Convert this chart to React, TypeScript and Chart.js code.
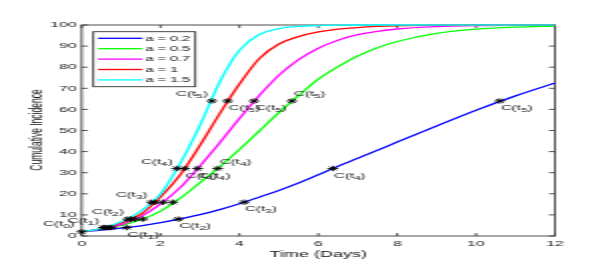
import React, { useEffect, useRef } from 'react';
import { Chart, registerables } from 'chart.js';

Chart.register(...registerables);

// ---- data ----
const T_A02 = [0, 0.5, 1, 1.5, 2, 2.5, 3, 3.5, 4, 4.5, 5, 5.5, 6, 6.5, 7, 7.5, 8, 9, 10, 11, 12];
const C_A02 = [2, 2.8, 3.7, 4.8, 6.3, 8.1, 10.1, 12.5, 15.3, 18.4, 21.6, 25.1, 29.0, 33.1, 36.8, 40.6, 44.5, 52.1, 59.6, 66.4, 72.5];

const T_A05 = [0, 0.5, 1, 1.5, 2, 2.5, 3, 3.5, 4, 4.5, 5, 5.5, 6, 6.5, 7, 7.5, 8, 9, 10, 11, 12];
const C_A05 = [2, 3.2, 5.0, 7.7, 11.8, 17.9, 25.3, 32.8, 41, 49.7, 58.5, 66.5, 74.3, 80.3, 85.3, 89.2, 92.2, 96, 98, 99, 99.5];

const T_A07 = [0, 0.5, 1, 1.5, 2, 2.5, 3, 3.5, 4, 4.5, 5, 5.5, 6, 6.5, 7, 7.5, 8, 9, 10, 11, 12];
const C_A07 = [2, 3.4, 5.4, 9.2, 15.2, 23, 33.2, 44.2, 55.7, 66.5, 76.2, 83.6, 89, 92.8, 95.4, 97, 98.1, 99.2, 99.7, 99.9, 100];

const T_A1 = [0, 0.5, 1, 1.5, 2, 2.5, 3, 3.5, 4, 4.5, 5, 5.5, 6, 6.5, 7, 7.5, 8, 9, 10, 12];
const C_A1 = [2, 3.5, 6.2, 10.3, 18.5, 29, 43, 58, 72, 84, 91, 94.5, 96.7, 98, 98.8, 99.3, 99.6, 99.9, 100, 100];

const T_A15 = [0, 0.5, 1, 1.5, 2, 2.5, 3, 3.5, 4, 4.5, 5, 5.5, 6, 6.5, 7, 8, 12];
const C_A15 = [2, 3.6, 6.8, 11.8, 20, 34.5, 52.5, 73, 88, 95.5, 98.3, 99.3, 99.7, 99.9, 100, 100, 100];

const SERIES_LABELS = ['a = 0.2', 'a = 0.5', 'a = 0.7', 'a = 1', 'a = 1.5'];
const SERIES_COLORS = ['#0000ff', '#00ff00', '#ff00ff', '#ff0000', '#00ffff'];

// asterisk markers
const MARK_T = [0, 1.14, 2.45, 4.12, 6.37, 10.6,
  0.75, 1.55, 2.31, 3.45, 5.33,
  0.68, 1.35, 2.06, 2.94, 4.37,
  0.6, 1.25, 1.85, 2.61, 3.7,
  0.55, 1.17, 1.77, 2.41, 3.3];
const MARK_C = [2, 4, 8, 16, 32, 64,
  4, 8, 16, 32, 64,
  4, 8, 16, 32, 64,
  4, 8, 16, 32, 64,
  4, 8, 16, 32, 64];

// C(t_i) annotations: anchor, subscript, placement (AL above-left, BR below-right, AR above-right)
const NOTE_T = [0, 0.55, 1.14, 1.17, 2.45, 1.77, 4.12, 2.41, 2.61, 2.94, 3.45, 6.37, 3.3, 3.7, 4.37, 5.33, 10.6];
const NOTE_C = [2, 4, 4, 8, 8, 16, 16, 32, 32, 32, 32, 32, 64, 64, 64, 64, 64];
const NOTE_SUB = ['0', '1', '1', '2', '2', '3', '3', '4', '4', '4', '4', '4', '5', '5', '5', '5', '5'];
const NOTE_POS = ['AL', 'AL', 'BR', 'AL', 'BR', 'AL', 'BR', 'AL', 'BR', 'BR', 'AR', 'BR', 'AL', 'BR', 'BR', 'AR', 'BR'];

const X_TICKS = [0, 2, 4, 6, 8, 10, 12];
const Y_TICKS = [0, 10, 20, 30, 40, 50, 60, 70, 80, 90, 100];

const X_TITLE = 'Time (Days)';
const Y_TITLE = 'Cumulative Incidence';

const FONT = '"Liberation Sans", Arial, Helvetica, sans-serif';

const CURVES_T = [T_A02, T_A05, T_A07, T_A1, T_A15];
const CURVES_C = [C_A02, C_A05, C_A07, C_A1, C_A15];

const framePlugin = {
  id: 'frameTicks',
  beforeDatasetsDraw(chart: any) {
    const { ctx, chartArea: ca, scales } = chart;
    ctx.save();
    ctx.strokeStyle = '#3a3a3a';
    ctx.lineWidth = 0.9;
    ctx.strokeRect(ca.left, ca.top, ca.right - ca.left, ca.bottom - ca.top);
    ctx.beginPath();
    const tl = 3;
    X_TICKS.forEach((v) => {
      const x = scales.x.getPixelForValue(v);
      ctx.moveTo(x, ca.bottom); ctx.lineTo(x, ca.bottom - tl);
      ctx.moveTo(x, ca.top); ctx.lineTo(x, ca.top + tl);
    });
    Y_TICKS.forEach((v) => {
      const y = scales.y.getPixelForValue(v);
      ctx.moveTo(ca.left, y); ctx.lineTo(ca.left + tl, y);
      ctx.moveTo(ca.right, y); ctx.lineTo(ca.right - tl, y);
    });
    ctx.stroke();
    ctx.restore();
  },
};

const textPlugin = {
  id: 'notesLegendTitles',
  afterDatasetsDraw(chart: any) {
    const { ctx, chartArea: ca, scales } = chart;
    ctx.save();
    // annotations
    const mainFont = `7.5px ${FONT}`;
    const subFont = `6px ${FONT}`;
    ctx.fillStyle = '#111';
    ctx.textBaseline = 'middle';
    ctx.textAlign = 'left';
    NOTE_T.forEach((t, i) => {
      const px = scales.x.getPixelForValue(t);
      const py = scales.y.getPixelForValue(NOTE_C[i]);
      ctx.font = mainFont;
      const w1 = ctx.measureText('C(t').width;
      const w3 = ctx.measureText(')').width;
      ctx.font = subFont;
      const w2 = ctx.measureText(NOTE_SUB[i]).width;
      const total = w1 + w2 + w3;
      const pos = NOTE_POS[i];
      let x0 = px + 0.5;
      let yc = py + 7;
      if (pos === 'AL') { x0 = px - 2 - total; yc = py - 7; }
      if (pos === 'AR') { x0 = px + 1; yc = py - 7; }
      if (i === 0) { yc = py - 8; x0 = px - 3.5 - total; }
      ctx.font = mainFont;
      ctx.fillText('C(t', x0, yc);
      ctx.font = subFont;
      ctx.fillText(NOTE_SUB[i], x0 + w1, yc + 2.5);
      ctx.font = mainFont;
      ctx.fillText(')', x0 + w1 + w2, yc);
    });

    // legend
    const bx = ca.left + 5.8;
    const by = ca.top + 6.7;
    const bw = 51;
    const bh = 55;
    ctx.fillStyle = '#fff';
    ctx.fillRect(bx, by, bw, bh);
    ctx.strokeStyle = '#333';
    ctx.lineWidth = 0.9;
    ctx.strokeRect(bx, by, bw, bh);
    ctx.font = `7.3px ${FONT}`;
    ctx.textBaseline = 'middle';
    SERIES_LABELS.forEach((lab, i) => {
      const y = by + 6.6 + i * 10.4;
      ctx.strokeStyle = SERIES_COLORS[i];
      ctx.lineWidth = 1.3;
      ctx.beginPath();
      ctx.moveTo(bx + 2.4, y);
      ctx.lineTo(bx + 24.6, y);
      ctx.stroke();
      ctx.fillStyle = '#111';
      ctx.fillText(lab, bx + 26, y + 0.3);
    });

    // axis titles
    ctx.fillStyle = '#111';
    ctx.font = `9px ${FONT}`;
    ctx.textAlign = 'center';
    ctx.textBaseline = 'middle';
    ctx.fillText(X_TITLE, (ca.left + ca.right) / 2, 255);
    ctx.font = `8.5px ${FONT}`;
    ctx.translate(19, 130);
    ctx.rotate(-Math.PI / 2);
    ctx.fillText(Y_TITLE, 0, 0);
    ctx.restore();
  },
};

export default function App() {
  const ref = useRef<HTMLCanvasElement>(null);
  useEffect(() => {
    const curveSets = CURVES_T.map((ts, k) => ({
      type: 'line' as const,
      label: SERIES_LABELS[k],
      data: ts.map((t, i) => ({ x: t, y: CURVES_C[k][i] })),
      borderColor: SERIES_COLORS[k],
      backgroundColor: SERIES_COLORS[k],
      borderWidth: 1.3,
      pointRadius: 0,
      cubicInterpolationMode: 'monotone' as const,
      clip: false as any,
      order: 5 - k,
    }));
    const markerSet = {
      type: 'line' as const,
      label: 'markers',
      data: MARK_T.map((t, i) => ({ x: t, y: MARK_C[i] })),
      showLine: false,
      pointStyle: 'star' as const,
      pointRadius: 2.7,
      pointBorderWidth: 0.9,
      borderColor: '#000',
      backgroundColor: '#000',
      clip: false as any,
      order: 0,
    };
    const chart = new Chart(ref.current!, {
      type: 'line',
      data: { datasets: [...curveSets, markerSet] as any },
      options: {
        animation: false,
        responsive: false,
        events: [],
        layout: { padding: { left: 0, right: 23.5, top: 25, bottom: 0 } },
        plugins: { legend: { display: false }, tooltip: { enabled: false } },
        scales: {
          x: {
            type: 'linear',
            min: 0,
            max: 12,
            grid: { display: false, drawTicks: false },
            border: { display: false },
            ticks: {
              stepSize: 2,
              padding: 3.3,
              maxRotation: 0,
              color: '#1a1a1a',
              font: { family: FONT, size: 8 },
            },
            afterFit: (s: any) => { s.height = 32; },
          },
          y: {
            type: 'linear',
            min: 0,
            max: 100,
            grid: { display: false, drawTicks: false },
            border: { display: false },
            ticks: {
              stepSize: 10,
              padding: 2.5,
              color: '#1a1a1a',
              font: { family: FONT, size: 8 },
            },
            afterFit: (s: any) => { s.width = 40.85; },
          },
        },
      },
      plugins: [framePlugin, textPlugin],
    } as any);
    return () => chart.destroy();
  }, []);
  return (
    <div style={{ position: 'fixed', left: 0, top: 0, width: 602, height: 268, overflow: 'hidden', background: '#fff' }}>
      <div style={{ width: 301, height: 268, transform: 'scale(2,1)', transformOrigin: '0 0' }}>
        <canvas ref={ref} width={301} height={268} style={{ display: 'block', width: 301, height: 268 }} />
      </div>
    </div>
  );
}
